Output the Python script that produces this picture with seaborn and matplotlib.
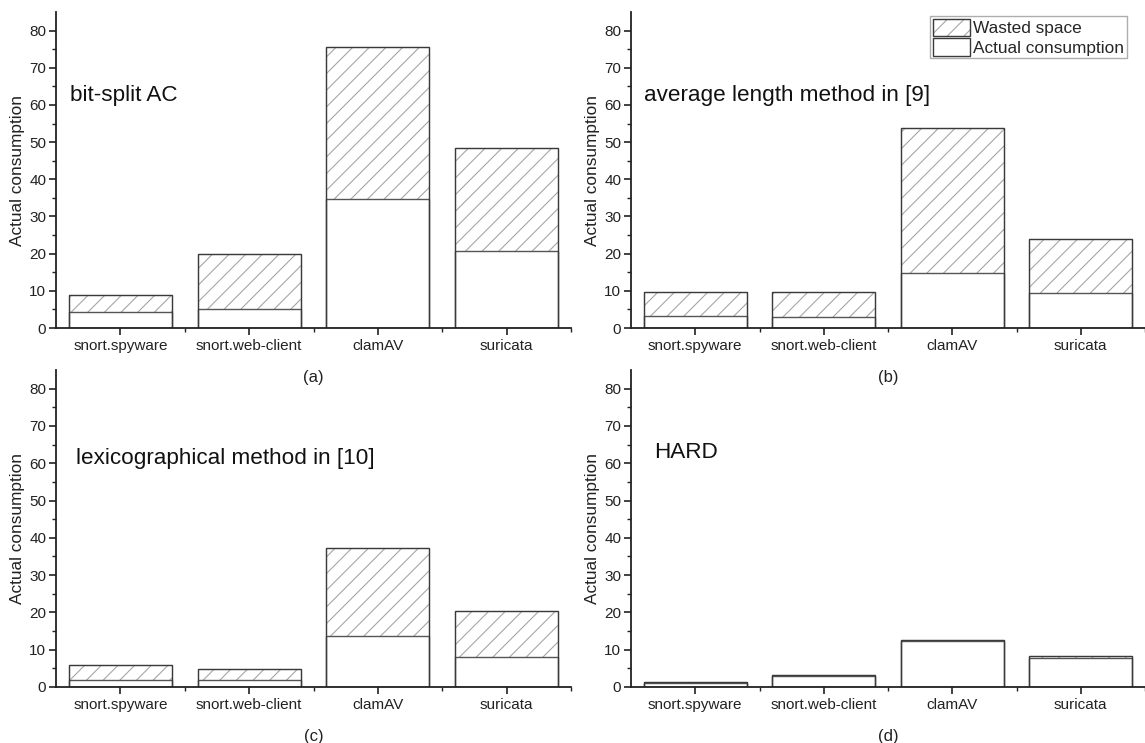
import matplotlib
matplotlib.use("Agg")
import matplotlib.pyplot as plt
import seaborn as sns
import pandas as pd
from matplotlib.patches import Patch

# ---- data ----
categories = ["snort.spyware", "snort.web-client", "clamAV", "suricata"]

bitsplit_total = [8.8, 20.0, 75.6, 48.4]
bitsplit_actual = [4.2, 5.1, 34.8, 20.8]

avglen_total = [9.7, 9.6, 53.8, 23.9]
avglen_actual = [3.1, 2.9, 14.7, 9.4]

lexico_total = [5.9, 4.8, 37.2, 20.5]
lexico_actual = [1.9, 1.9, 13.7, 8.0]

hard_total = [1.4, 3.1, 12.6, 8.2]
hard_actual = [1.2, 3.0, 12.4, 7.9]

panel_titles = ["bit-split AC", "average length method in [9]",
                "lexicographical method in [10]", "HARD"]
panel_letters = ["(a)", "(b)", "(c)", "(d)"]
ylabel = "Actual consumption"
legend_labels = ["Wasted space", "Actual consumption"]
y_ticks = [0, 10, 20, 30, 40, 50, 60, 70, 80]

sns.set_theme(style="ticks")
plt.rcParams["font.family"] = ["Liberation Sans", "DejaVu Sans"]
plt.rcParams["hatch.linewidth"] = 0.8

W, H = 1145, 743
fig = plt.figure(figsize=(W / 100, H / 100), dpi=100)

rects = [
    (56, 12, 571, 328),
    (631, 12, 1145, 328),
    (56, 370, 571, 687),
    (631, 370, 1145, 687),
]
panels = [
    (bitsplit_total, bitsplit_actual),
    (avglen_total, avglen_actual),
    (lexico_total, lexico_actual),
    (hard_total, hard_actual),
]
text_pos = [(-0.39, 62.5), (-0.395, 62.5), (-0.345, 61.4), (-0.32, 62.8)]

edge = "#3a3a3a"
hatch_col = "#a6a6a6"
tc = "#222222"
for i, ((l, t, r, b), (tot, act)) in enumerate(zip(rects, panels)):
    ax = fig.add_axes([l / W, 1 - b / H, (r - l) / W, (b - t) / H])
    ax.set_facecolor("none")
    df = pd.DataFrame({"cat": categories, "total": tot, "actual": act})
    # hatched wasted-space bars (hatch takes the edge colour)
    sns.barplot(data=df, x="cat", y="total", ax=ax, color="white",
                edgecolor=hatch_col, linewidth=0.8, hatch="//", width=0.8,
                saturation=1)
    # actual consumption bars
    sns.barplot(data=df, x="cat", y="actual", ax=ax, color="white",
                edgecolor="#555555", linewidth=1.0, width=0.8, saturation=1)
    for p in ax.containers[1]:
        p.set_hatch(None)
    # dark outline of the full bars
    sns.barplot(data=df, x="cat", y="total", ax=ax, color=edge, fill=False,
                linewidth=1.0, width=0.8, saturation=1)
    ax.set_xlim(-0.5, 3.5)
    ax.set_ylim(0, 85)
    ax.set_yticks(y_ticks)
    ax.set_yticks(list(range(5, 85, 10)), minor=True)
    ax.set_xticks([0.5, 1.5, 2.5, 3.5], minor=True)
    ax.set_xlabel(panel_letters[i], fontsize=12, labelpad=12, color=tc)
    ax.set_ylabel(ylabel, fontsize=12.4, labelpad=3, color=tc)
    ax.tick_params(axis="both", which="major", direction="out", length=5,
                   width=1.2, labelsize=11, color=tc, labelcolor=tc)
    ax.tick_params(axis="both", which="minor", direction="out", length=3,
                   width=1.0, color=tc)
    ax.tick_params(axis="x", which="major", pad=3)
    ax.tick_params(axis="y", which="major", pad=2)
    for s in ["top", "right"]:
        ax.spines[s].set_visible(False)
    for s in ["left", "bottom"]:
        ax.spines[s].set_linewidth(1.3)
        ax.spines[s].set_color(tc)
    tx, ty = text_pos[i]
    ax.text(tx, ty, panel_titles[i], fontsize=16.2,
            va="center", ha="left", color="#111111")
    if i == 1:
        h_wasted = (Patch(facecolor="white", edgecolor=hatch_col, hatch="//",
                          linewidth=0.8),
                    Patch(facecolor="none", edgecolor=edge, linewidth=1.0))
        h_actual = Patch(facecolor="white", edgecolor=edge, linewidth=1.0)
        leg = ax.legend([h_wasted, h_actual], legend_labels, loc="upper right",
                        bbox_to_anchor=(1127 / W, 1 - 16 / H),
                        bbox_transform=fig.transFigure, borderaxespad=0,
                        fontsize=12.4, frameon=True, fancybox=False,
                        handlelength=2.15, handleheight=1.2,
                        handletextpad=0.2, labelspacing=0.1,
                        borderpad=0.15)
        leg.get_frame().set_edgecolor("#999999")
        leg.get_frame().set_linewidth(1.0)

fig.savefig("out.png", dpi=100)
